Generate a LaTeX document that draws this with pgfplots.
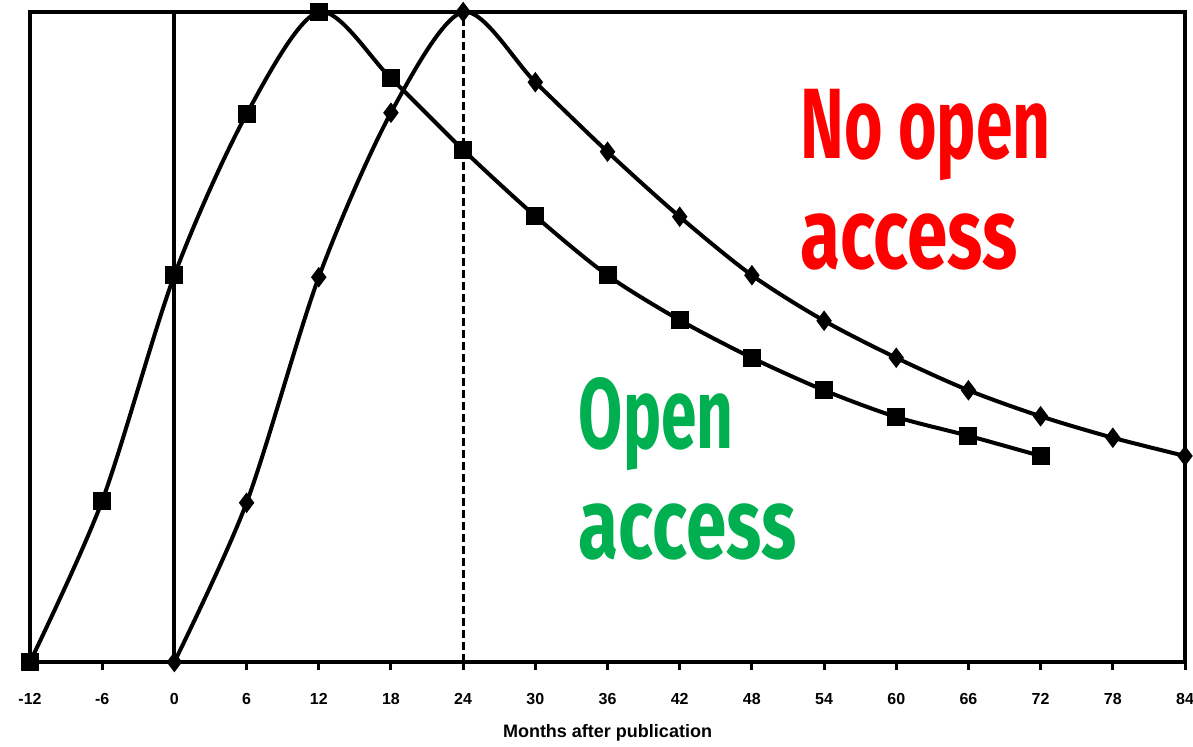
\documentclass[border=0pt]{standalone}
\usepackage{pgfplots}
\pgfplotsset{compat=1.18}
\usepackage{fontspec}
\setmainfont{Liberation Sans}
\newfontfamily\bigfont{Fira Sans}
\definecolor{oagreen}{RGB}{0,176,80}
\definecolor{oared}{RGB}{255,0,0}
\pgfplotstableread{
x y
-12 0
-6 24.8
0 59.5
6 84.3
12 100
18 89.8
24 78.8
30 68.6
36 59.5
42 52.6
48 46.8
54 41.8
60 37.7
66 34.8
72 31.7
}\openaccess
\pgfplotstableread{
x y
0 0
6 24.5
12 59.2
18 84.5
24 100
30 89.2
36 78.5
42 68.5
48 59.5
54 52.5
60 46.8
66 41.8
72 37.8
78 34.5
84 31.7
}\noopen
\begin{document}
\begin{tikzpicture}
\begin{axis}[
  scale only axis,
  width=577.5pt, height=325pt,
  xmin=-12, xmax=84, ymin=0, ymax=100,
  xtick={-12,-6,...,84},
  ytick=\empty,
  tick align=outside,
  xtick pos=lower,
  major tick length=4pt,
  axis line style={line width=2pt},
  every tick/.style={line width=1.5pt, black},
  xticklabel style={font=\bfseries\footnotesize, yshift=-8pt},
  /pgf/number format/assume math mode=true,
  xlabel={\bfseries Months after publication},
  xlabel style={font=\small, yshift=-3pt},
  clip mode=individual,
]
\draw[line width=2pt] (axis cs:0,0) -- (axis cs:0,100);
\draw[line width=1.5pt, dash pattern=on 4pt off 2pt] (axis cs:24,0) -- (axis cs:24,100);
\addplot[black, line width=2pt, smooth, mark=square*, mark size=3.5pt] table[x=x,y=y] {\openaccess};
\addplot[black, line width=2pt, smooth, mark=diamond*, mark size=3.5pt] table[x=x,y=y] {\noopen};
\node[anchor=base west, inner sep=0pt, text=oared, font=\bigfont\bfseries\fontsize{50}{50}\selectfont, xscale=0.66] at (axis cs:52,77.5) {No open};
\node[anchor=base west, inner sep=0pt, text=oared, font=\bigfont\bfseries\fontsize{50}{50}\selectfont, xscale=0.73] at (axis cs:52,60.6) {access};
\node[anchor=base west, inner sep=0pt, text=oagreen, font=\bigfont\bfseries\fontsize{50}{50}\selectfont, xscale=0.64] at (axis cs:33.6,32.9) {Open};
\node[anchor=base west, inner sep=0pt, text=oagreen, font=\bigfont\bfseries\fontsize{50}{50}\selectfont, xscale=0.73] at (axis cs:33.6,16.0) {access};
\end{axis}
\pgfresetboundingbox
\path (-15pt,-42pt) rectangle (581.5pt,331pt);
\end{tikzpicture}
\end{document}
